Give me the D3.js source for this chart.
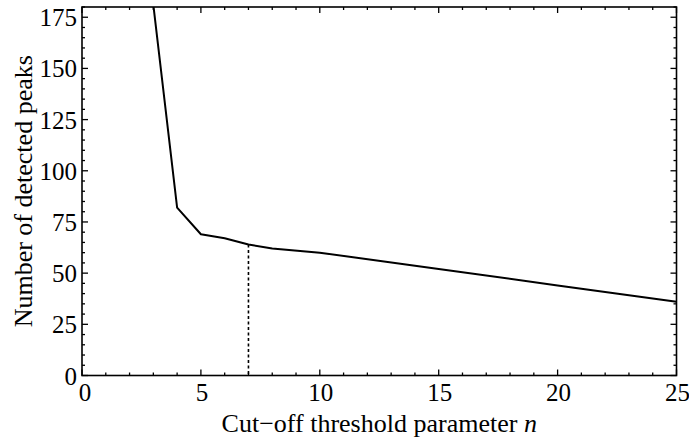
<!DOCTYPE html>
<html>
<head>
<meta charset="utf-8">
<script src="https://cdn.jsdelivr.net/npm/d3@7"></script>
<style>
  html, body { margin: 0; padding: 0; background: #fff; }
  svg { display: block; }
</style>
</head>
<body>
<svg id="chart" width="689" height="441"></svg>
<script>
// Cut-off threshold parameter n vs. number of detected peaks
const thresholds = [3, 4, 5, 6, 7, 8, 10, 15, 20, 25];
const peakCounts = [181, 82, 69, 67, 64, 62, 60, 52, 44, 36];
const chosenThreshold = 7;
const chosenPeaks = 64;

const xMajorTicks = [0, 5, 10, 15, 20, 25];
const yMajorTicks = [0, 25, 50, 75, 100, 125, 150, 175];

const W = 689, H = 441;
const margin = { left: 82, right: 12.5, top: 7, bottom: 65.5 };
const FONT = "'Liberation Serif', 'Times New Roman', Times, serif";

const svg = d3.select("#chart").attr("font-family", FONT);
const x = d3.scaleLinear().domain([0, 25]).range([margin.left, W - margin.right]);
const y = d3.scaleLinear().domain([0, 180]).range([H - margin.bottom, margin.top]);

const xMinor = d3.range(0, 26, 1).filter(v => v % 5 !== 0);
const yMinor = d3.range(0, 181, 5).filter(v => v % 25 !== 0);

const majorLen = 6, minorLen = 3;
const tickFont = 25;
const titleFont = 26;

// clip for the data line
svg.append("defs").append("clipPath").attr("id", "plotClip")
  .append("rect")
  .attr("x", x(0)).attr("y", y(180))
  .attr("width", x(25) - x(0)).attr("height", y(0) - y(180));

// inward ticks on all four sides
function drawTicks(g, scale, values, len, side) {
  g.selectAll(null).data(values).enter().append("line")
    .attr("stroke", "#000").attr("stroke-width", 1.3)
    .each(function (d) {
      const s = d3.select(this);
      if (side === "bottom") s.attr("x1", scale(d)).attr("x2", scale(d)).attr("y1", y(0)).attr("y2", y(0) - len);
      if (side === "top") s.attr("x1", scale(d)).attr("x2", scale(d)).attr("y1", y(180)).attr("y2", y(180) + len);
      if (side === "left") s.attr("y1", scale(d)).attr("y2", scale(d)).attr("x1", x(0)).attr("x2", x(0) + len);
      if (side === "right") s.attr("y1", scale(d)).attr("y2", scale(d)).attr("x1", x(25)).attr("x2", x(25) - len);
    });
}
const tg = svg.append("g");
drawTicks(tg, x, xMajorTicks, majorLen, "bottom");
drawTicks(tg, x, xMinor, minorLen, "bottom");
drawTicks(tg, x, xMajorTicks, majorLen, "top");
drawTicks(tg, x, xMinor, minorLen, "top");
drawTicks(tg, y, yMajorTicks, majorLen, "left");
drawTicks(tg, y, yMinor, minorLen, "left");
drawTicks(tg, y, yMajorTicks, majorLen, "right");
drawTicks(tg, y, yMinor, minorLen, "right");

// tick labels
svg.append("g").selectAll("text").data(xMajorTicks).enter().append("text")
  .attr("x", d => x(d) + (d === 0 ? 3 : 1))
  .attr("y", y(0) + 25.5)
  .attr("text-anchor", "middle")
  .attr("font-family", FONT)
  .attr("font-size", tickFont)
  .text(d => d);

svg.append("g").selectAll("text").data(yMajorTicks).enter().append("text")
  .attr("x", x(0) - 5)
  .attr("y", d => y(d) + 9)
  .attr("text-anchor", "end")
  .attr("font-family", FONT)
  .attr("font-size", tickFont)
  .text(d => d);

// marker for the chosen threshold
svg.append("line")
  .attr("x1", x(chosenThreshold)).attr("x2", x(chosenThreshold))
  .attr("y1", y(chosenPeaks)).attr("y2", y(0))
  .attr("stroke", "#000").attr("stroke-width", 1.6)
  .attr("stroke-dasharray", "3,2.5");

// data line
const line = d3.line().x((d, i) => x(thresholds[i])).y(d => y(d));
svg.append("path")
  .datum(peakCounts)
  .attr("clip-path", "url(#plotClip)")
  .attr("fill", "none")
  .attr("stroke", "#000")
  .attr("stroke-width", 2)
  .attr("stroke-linejoin", "round")
  .attr("d", line);

// frame
svg.append("rect")
  .attr("x", x(0)).attr("y", y(180))
  .attr("width", x(25) - x(0)).attr("height", y(0) - y(180))
  .attr("fill", "none").attr("stroke", "#000").attr("stroke-width", 1.6);

// axis titles
const xt = svg.append("text")
  .attr("x", (x(0) + x(25)) / 2)
  .attr("y", 432)
  .attr("text-anchor", "middle")
  .attr("font-family", FONT)
  .attr("font-size", titleFont);
xt.append("tspan").text("Cut\u2212off threshold parameter ");
xt.append("tspan").attr("font-style", "italic").text("n");

svg.append("text")
  .attr("transform", `translate(32,${(y(0) + y(180)) / 2}) rotate(-90)`)
  .attr("text-anchor", "middle")
  .attr("font-family", FONT)
  .attr("font-size", titleFont)
  .text("Number of detected peaks");
</script>
</body>
</html>
